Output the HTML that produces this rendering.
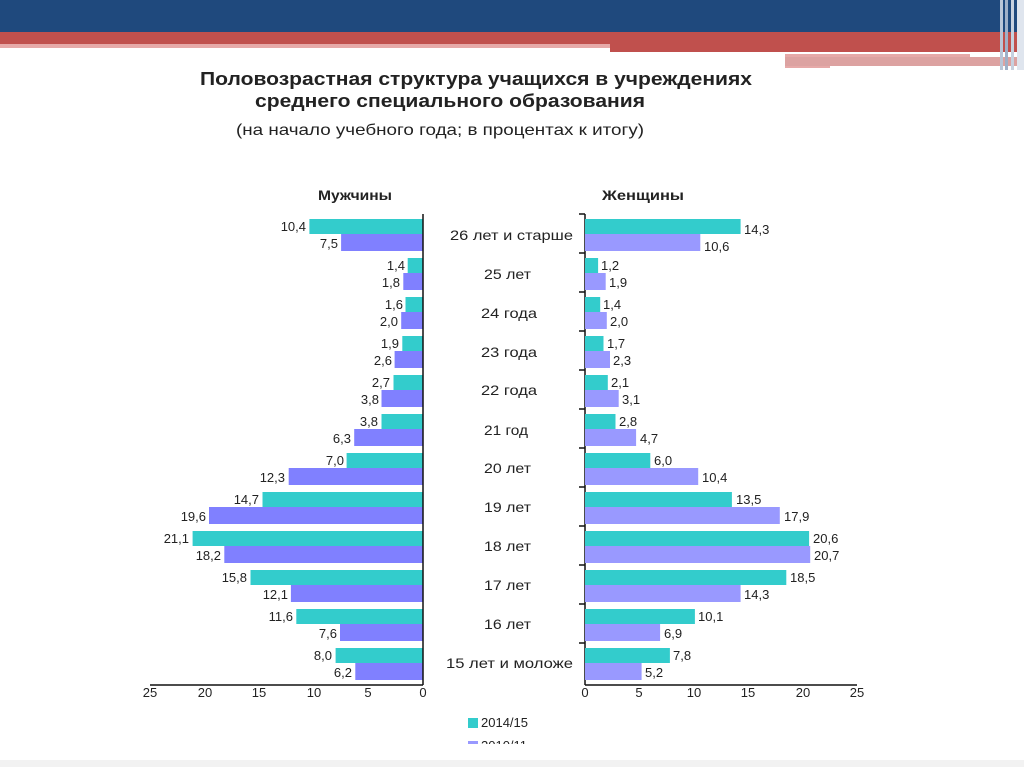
<!DOCTYPE html>
<html><head><meta charset="utf-8"><style>
html,body{margin:0;padding:0;background:#fff;}
body{width:1024px;height:767px;overflow:hidden;position:relative;font-family:"Liberation Sans",sans-serif;}
</style></head><body>
<svg width="1024" height="767" xmlns="http://www.w3.org/2000/svg" font-family="Liberation Sans, sans-serif">
<rect x="0" y="0" width="1024" height="32" fill="#1f497d"/>
<rect x="0" y="32" width="1024" height="12" fill="#c0504d"/>
<rect x="0" y="44" width="610" height="4" fill="#e6a9a8"/>
<rect x="610" y="44" width="414" height="8" fill="#c0504d"/>
<rect x="785" y="54" width="185" height="3" fill="#e6a9a8"/>
<rect x="785" y="57" width="245" height="9" fill="#dca2a1"/>
<rect x="785" y="66" width="45" height="2" fill="#e6a9a8"/>
<rect x="1000" y="0" width="3" height="70" fill="#b9c6d8"/>
<rect x="1005" y="0" width="3" height="70" fill="#9fb0c8"/>
<rect x="1011" y="0" width="3" height="70" fill="#c7d1df"/>
<rect x="1017" y="0" width="7" height="70" fill="#dfe5ee"/>
<rect x="0" y="760" width="1024" height="7" fill="#f2f2f2"/>

<g font-weight="bold" font-size="18" fill="#222">
<text x="200" y="85" textLength="552" lengthAdjust="spacingAndGlyphs">Половозрастная структура учащихся в учреждениях</text>
<text x="255" y="107" textLength="390" lengthAdjust="spacingAndGlyphs">среднего специального образования</text>
</g>
<text x="236" y="135" font-size="16" fill="#222" textLength="408" lengthAdjust="spacingAndGlyphs">(на начало учебного года; в процентах к итогу)</text>
<g font-weight="bold" font-size="14" fill="#222">
<text x="318" y="200" textLength="74" lengthAdjust="spacingAndGlyphs">Мужчины</text><text x="602" y="200" textLength="82" lengthAdjust="spacingAndGlyphs">Женщины</text>
</g>

<g fill="#33cccc">
<rect x="309.4" y="219" width="113.6" height="15"/><rect x="407.7" y="258" width="15.3" height="15"/><rect x="405.5" y="297" width="17.5" height="15"/><rect x="402.3" y="336" width="20.7" height="15"/><rect x="393.5" y="375" width="29.5" height="15"/><rect x="381.5" y="414" width="41.5" height="15"/><rect x="346.6" y="453" width="76.4" height="15"/><rect x="262.5" y="492" width="160.5" height="15"/><rect x="192.6" y="531" width="230.4" height="15"/><rect x="250.5" y="570" width="172.5" height="15"/><rect x="296.3" y="609" width="126.7" height="15"/><rect x="335.6" y="648" width="87.4" height="15"/>
</g>
<g fill="#8080ff">
<rect x="341.1" y="234" width="81.9" height="17"/><rect x="403.3" y="273" width="19.7" height="17"/><rect x="401.2" y="312" width="21.8" height="17"/><rect x="394.6" y="351" width="28.4" height="17"/><rect x="381.5" y="390" width="41.5" height="17"/><rect x="354.2" y="429" width="68.8" height="17"/><rect x="288.7" y="468" width="134.3" height="17"/><rect x="209" y="507" width="214" height="17"/><rect x="224.3" y="546" width="198.7" height="17"/><rect x="290.9" y="585" width="132.1" height="17"/><rect x="340" y="624" width="83" height="17"/><rect x="355.3" y="663" width="67.7" height="17"/>
</g>
<g font-size="13" fill="#222" text-anchor="end">
<text x="306" y="231">10,4</text><text x="338" y="248">7,5</text>
<text x="405" y="270">1,4</text><text x="400" y="287">1,8</text>
<text x="403" y="309">1,6</text><text x="398" y="326">2,0</text>
<text x="399" y="348">1,9</text><text x="392" y="365">2,6</text>
<text x="390" y="387">2,7</text><text x="379" y="404">3,8</text>
<text x="378" y="426">3,8</text><text x="351" y="443">6,3</text>
<text x="344" y="465">7,0</text><text x="285" y="482">12,3</text>
<text x="259" y="504">14,7</text><text x="206" y="521">19,6</text>
<text x="189" y="543">21,1</text><text x="221" y="560">18,2</text>
<text x="247" y="582">15,8</text><text x="288" y="599">12,1</text>
<text x="293" y="621">11,6</text><text x="337" y="638">7,6</text>
<text x="332" y="660">8,0</text><text x="352" y="677">6,2</text>
</g>
<g stroke="#111" stroke-width="1.5">
<line x1="423" y1="214" x2="423" y2="685"/><line x1="150" y1="685" x2="423" y2="685"/>
<line x1="585" y1="214" x2="585" y2="685"/><line x1="585" y1="685" x2="857" y2="685"/>
<line x1="579" y1="214" x2="585" y2="214"/><line x1="579" y1="253" x2="585" y2="253"/><line x1="579" y1="292" x2="585" y2="292"/><line x1="579" y1="331" x2="585" y2="331"/><line x1="579" y1="370" x2="585" y2="370"/><line x1="579" y1="409" x2="585" y2="409"/><line x1="579" y1="448" x2="585" y2="448"/><line x1="579" y1="487" x2="585" y2="487"/><line x1="579" y1="526" x2="585" y2="526"/><line x1="579" y1="565" x2="585" y2="565"/><line x1="579" y1="604" x2="585" y2="604"/><line x1="579" y1="643" x2="585" y2="643"/>
</g>
<g fill="#33cccc">
<rect x="585" y="219" width="155.6" height="15"/><rect x="585" y="258" width="13.1" height="15"/><rect x="585" y="297" width="15.2" height="15"/><rect x="585" y="336" width="18.5" height="15"/><rect x="585" y="375" width="22.8" height="15"/><rect x="585" y="414" width="30.5" height="15"/><rect x="585" y="453" width="65.3" height="15"/><rect x="585" y="492" width="146.9" height="15"/><rect x="585" y="531" width="224.1" height="15"/><rect x="585" y="570" width="201.3" height="15"/><rect x="585" y="609" width="109.9" height="15"/><rect x="585" y="648" width="84.9" height="15"/>
</g>
<g fill="#9999ff">
<rect x="585" y="234" width="115.3" height="17"/><rect x="585" y="273" width="20.7" height="17"/><rect x="585" y="312" width="21.8" height="17"/><rect x="585" y="351" width="25" height="17"/><rect x="585" y="390" width="33.7" height="17"/><rect x="585" y="429" width="51.1" height="17"/><rect x="585" y="468" width="113.2" height="17"/><rect x="585" y="507" width="194.8" height="17"/><rect x="585" y="546" width="225.2" height="17"/><rect x="585" y="585" width="155.6" height="17"/><rect x="585" y="624" width="75.1" height="17"/><rect x="585" y="663" width="56.6" height="17"/>
</g>
<g font-size="13" fill="#222">
<text x="744" y="234">14,3</text><text x="704" y="251">10,6</text>
<text x="601" y="270">1,2</text><text x="609" y="287">1,9</text>
<text x="603" y="309">1,4</text><text x="610" y="326">2,0</text>
<text x="607" y="348">1,7</text><text x="613" y="365">2,3</text>
<text x="611" y="387">2,1</text><text x="622" y="404">3,1</text>
<text x="619" y="426">2,8</text><text x="640" y="443">4,7</text>
<text x="654" y="465">6,0</text><text x="702" y="482">10,4</text>
<text x="736" y="504">13,5</text><text x="784" y="521">17,9</text>
<text x="813" y="543">20,6</text><text x="814" y="560">20,7</text>
<text x="790" y="582">18,5</text><text x="744" y="599">14,3</text>
<text x="698" y="621">10,1</text><text x="664" y="638">6,9</text>
<text x="673" y="660">7,8</text><text x="645" y="677">5,2</text>
</g>
<g font-size="14" fill="#222">
<text x="450" y="240" textLength="123" lengthAdjust="spacingAndGlyphs">26 лет и старше</text>
<text x="484" y="279" textLength="47" lengthAdjust="spacingAndGlyphs">25 лет</text>
<text x="481" y="318" textLength="56" lengthAdjust="spacingAndGlyphs">24 года</text>
<text x="481" y="357" textLength="56" lengthAdjust="spacingAndGlyphs">23 года</text>
<text x="481" y="395" textLength="56" lengthAdjust="spacingAndGlyphs">22 года</text>
<text x="484" y="435" textLength="44" lengthAdjust="spacingAndGlyphs">21 год</text>
<text x="484" y="473" textLength="47" lengthAdjust="spacingAndGlyphs">20 лет</text>
<text x="484" y="512" textLength="47" lengthAdjust="spacingAndGlyphs">19 лет</text>
<text x="484" y="551" textLength="47" lengthAdjust="spacingAndGlyphs">18 лет</text>
<text x="484" y="590" textLength="47" lengthAdjust="spacingAndGlyphs">17 лет</text>
<text x="484" y="629" textLength="47" lengthAdjust="spacingAndGlyphs">16 лет</text>
<text x="446" y="668" textLength="127" lengthAdjust="spacingAndGlyphs">15 лет и моложе</text>
</g>
<g font-size="13" fill="#222" text-anchor="middle">
<text x="150" y="697">25</text><text x="205" y="697">20</text><text x="259" y="697">15</text><text x="314" y="697">10</text><text x="368" y="697">5</text><text x="423" y="697">0</text>
<text x="585" y="697">0</text><text x="639" y="697">5</text><text x="694" y="697">10</text><text x="748" y="697">15</text><text x="803" y="697">20</text><text x="857" y="697">25</text>
</g>
<rect x="468" y="718" width="10" height="10" fill="#33cccc"/>
<text x="481" y="727" font-size="13" fill="#222">2014/15</text>
<svg x="0" y="0" width="1024" height="744" overflow="hidden">
<rect x="468" y="741" width="10" height="10" fill="#9999ff"/>
<text x="481" y="750" font-size="13" fill="#222">2010/11</text>
</svg>
</svg>
</body></html>
